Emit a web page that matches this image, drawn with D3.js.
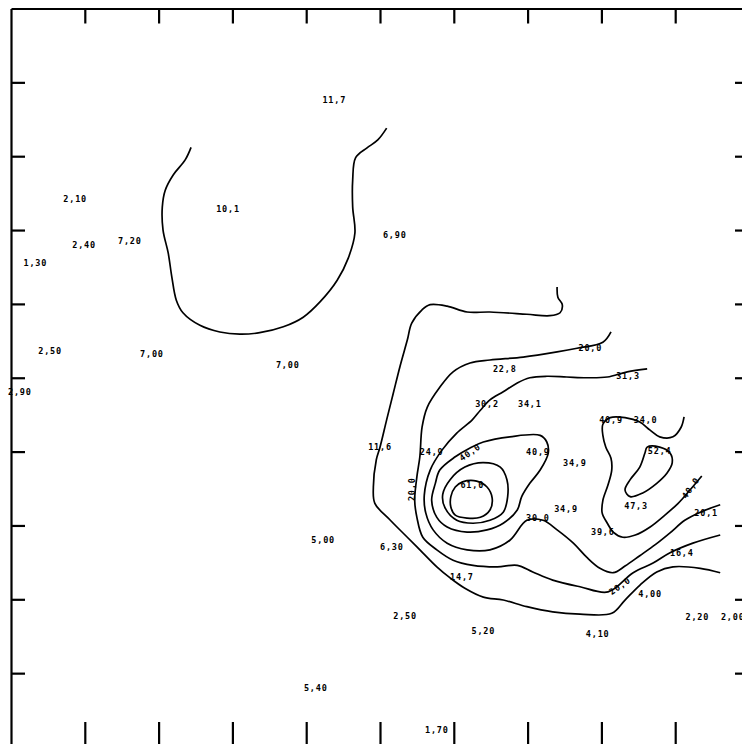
<!DOCTYPE html>
<html>
<head>
<meta charset="utf-8">
<script src="https://cdn.jsdelivr.net/npm/d3@7"></script>
<style>
  html, body { margin: 0; padding: 0; background: #fff; }
  svg { display: block; }
  .lbl { font-family: "DejaVu Sans Mono", monospace; font-weight: bold; font-size: 8.5px; letter-spacing: 0.8px; fill: #000; }
</style>
</head>
<body>
<div id="chart"></div>
<script>
// grid positions of the tick marks (map units)
var xTicks = [1, 2, 3, 4, 5, 6, 7, 8, 9];
var yTicks = [1, 2, 3, 4, 5, 6, 7, 8, 9];

// station values written on the map
var valueText = ["11,7", "2,10", "10,1", "7,20", "2,40", "1,30", "6,90", "2,50", "7,00", "7,00",
                 "2,90", "22,8", "31,3", "30,2", "34,1", "40,9", "34,0", "11,6", "24,9", "40,9",
                 "34,9", "52,4", "61,0", "47,3", "34,9", "39,6", "20,1", "6,30", "5,00", "16,4",
                 "14,7", "4,00", "2,50", "5,20", "4,10", "2,20", "2,00", "5,40", "1,70"];
var valueX = [4.38, 0.87, 2.94, 1.61, 0.99, 0.33, 5.20, 0.53, 1.91, 3.75,
              0.12, 6.69, 8.36, 6.45, 7.03, 8.13, 8.60, 5.00, 5.70, 7.14,
              7.64, 8.79, 6.25, 8.47, 7.52, 8.02, 9.42, 5.16, 4.23, 9.09,
              6.11, 8.66, 5.34, 6.40, 7.95, 9.30, 9.78, 4.13, 5.77];
var valueY = [8.76, 7.42, 7.29, 6.85, 6.80, 6.55, 6.93, 5.36, 5.32, 5.17,
              4.81, 5.12, 5.02, 4.64, 4.64, 4.43, 4.43, 4.06, 3.99, 3.99,
              3.85, 4.01, 3.55, 3.26, 3.22, 2.91, 3.17, 2.71, 2.80, 2.63,
              2.30, 2.07, 1.77, 1.57, 1.53, 1.76, 1.76, 0.80, 0.23];

// contour level labels
var levelText = ["20,0", "40,0", "20,0", "40,0", "30,0", "20,0"];
var levelX = [7.85, 6.22, 5.43, 9.21, 7.14, 8.25];
var levelY = [5.40, 3.99, 3.49, 3.51, 3.10, 2.18];

// contour lines, open
var lineU = [[2.44, 8.12], [2.36, 7.95], [2.20, 7.75], [2.09, 7.54], [2.05, 7.31], [2.06, 7.00],
             [2.13, 6.69], [2.18, 6.36], [2.24, 6.05], [2.33, 5.88], [2.56, 5.71], [2.83, 5.62],
             [3.10, 5.59], [3.37, 5.61], [3.69, 5.69], [3.96, 5.82], [4.19, 6.03], [4.42, 6.32],
             [4.57, 6.62], [4.66, 6.96], [4.63, 7.31], [4.63, 7.68], [4.67, 7.98], [4.82, 8.11],
             [4.97, 8.22], [5.09, 8.38]];
var lineOuter = [[7.40, 6.23], [7.41, 6.09], [7.47, 5.99], [7.44, 5.88], [7.30, 5.84], [6.99, 5.86],
                 [6.49, 5.89], [6.18, 5.89], [5.91, 5.97], [5.68, 5.99], [5.57, 5.92], [5.43, 5.74],
                 [5.37, 5.51], [5.27, 5.15], [5.18, 4.79], [5.09, 4.43], [5.00, 4.06], [4.95, 3.89],
                 [4.91, 3.52], [4.93, 3.30], [5.14, 3.07], [5.37, 2.84], [5.57, 2.64], [5.77, 2.44],
                 [5.95, 2.29], [6.15, 2.15], [6.40, 2.03], [6.67, 1.99], [6.99, 1.90], [7.34, 1.83],
                 [7.71, 1.80], [8.14, 1.81], [8.32, 1.99], [8.52, 2.19], [8.75, 2.37], [8.97, 2.44],
                 [9.34, 2.42], [9.61, 2.36]];
var line20 = [[8.13, 5.62], [8.02, 5.48], [7.67, 5.40], [7.40, 5.35], [6.94, 5.28], [6.49, 5.24],
              [6.22, 5.20], [5.99, 5.08], [5.81, 4.87], [5.64, 4.60], [5.57, 4.33], [5.54, 3.93],
              [5.50, 3.66], [5.47, 3.34], [5.50, 3.11], [5.58, 2.84], [5.77, 2.67], [5.99, 2.53],
              [6.26, 2.46], [6.59, 2.44], [6.86, 2.46], [7.07, 2.37], [7.34, 2.26], [7.71, 2.17],
              [8.09, 2.10], [8.43, 2.36], [8.70, 2.49], [8.93, 2.63], [9.24, 2.76], [9.61, 2.87]];
var line30 = [[8.62, 5.12], [8.35, 5.08], [8.08, 5.01], [7.80, 5.00], [7.53, 5.01], [7.26, 5.02],
              [7.03, 5.00], [6.86, 4.93], [6.67, 4.81], [6.49, 4.70], [6.36, 4.56], [6.25, 4.43],
              [6.04, 4.25], [5.84, 4.02], [5.68, 3.75], [5.60, 3.41], [5.62, 3.17], [5.72, 2.94],
              [5.91, 2.76], [6.18, 2.67], [6.49, 2.67], [6.76, 2.80], [6.99, 3.07], [7.21, 3.07],
              [7.40, 2.94], [7.62, 2.76], [7.80, 2.57], [7.98, 2.42], [8.16, 2.36], [8.32, 2.45],
              [8.52, 2.59], [8.73, 2.74], [8.93, 2.90], [9.13, 3.07], [9.34, 3.18], [9.61, 3.28]];
var line40East = [[9.12, 4.47], [9.08, 4.33], [8.97, 4.20], [8.79, 4.20], [8.66, 4.29], [8.52, 4.40],
                  [8.32, 4.46], [8.12, 4.46], [8.02, 4.37], [8.02, 4.22], [8.06, 4.06], [8.13, 3.91],
                  [8.14, 3.75], [8.09, 3.55], [8.02, 3.34], [8.01, 3.17], [8.08, 3.03], [8.16, 2.91],
                  [8.29, 2.84], [8.46, 2.87], [8.66, 2.98], [8.86, 3.14], [9.04, 3.30], [9.20, 3.48],
                  [9.36, 3.67]];

// contour lines, closed
var loop40 = [[6.40, 4.13], [6.76, 4.20], [7.17, 4.22], [7.26, 4.13], [7.28, 3.98], [7.17, 3.75],
              [7.03, 3.57], [6.92, 3.39], [6.86, 3.21], [6.67, 3.03], [6.45, 2.94], [6.18, 2.91],
              [5.91, 2.98], [5.77, 3.11], [5.70, 3.34], [5.75, 3.57], [5.81, 3.75], [6.02, 3.93],
              [6.22, 4.05]];
var loop50 = [[5.85, 3.42], [5.95, 3.62], [6.15, 3.79], [6.40, 3.85], [6.63, 3.79], [6.72, 3.62],
              [6.73, 3.39], [6.67, 3.18], [6.49, 3.07], [6.26, 3.03], [6.04, 3.07], [5.88, 3.24]];
var loop60 = [[5.96, 3.39], [6.02, 3.52], [6.12, 3.59], [6.31, 3.60], [6.45, 3.52], [6.52, 3.37],
              [6.49, 3.21], [6.36, 3.11], [6.18, 3.10], [6.02, 3.14], [5.96, 3.25]];
var loop50East = [[8.62, 4.06], [8.79, 4.06], [8.93, 3.98], [8.96, 3.85], [8.89, 3.71], [8.75, 3.57],
                  [8.56, 3.44], [8.39, 3.39], [8.32, 3.48], [8.39, 3.62], [8.52, 3.79], [8.59, 3.98]];

var openLines = [lineU, lineOuter, line20, line30, line40East];
var closedLines = [loop40, loop50, loop60, loop50East];

var w = 742,
    h = 744;

var x = d3.scaleLinear().domain([0, 10]).range([11, 749]);
var y = d3.scaleLinear().domain([0, 10]).range([747, 8.5]);

var svg = d3.select("#chart")
            .append("svg")
            .attr("width", w)
            .attr("height", h);

svg.append("rect")
   .attr("width", w)
   .attr("height", h)
   .style("fill", "#fff");

// frame with inward ticks
var frame = [
    { axis: d3.axisTop(x).tickValues(xTicks).tickSize(-15), at: "translate(0," + y(10) + ")" },
    { axis: d3.axisBottom(x).tickValues(xTicks).tickSize(-25), at: "translate(0," + y(0) + ")" },
    { axis: d3.axisLeft(y).tickValues(yTicks).tickSize(-14), at: "translate(" + x(0) + ",0)" },
    { axis: d3.axisRight(y).tickValues(yTicks).tickSize(-14), at: "translate(" + x(10) + ",0)" }
];

frame.forEach(function(f) {
    var g = svg.append("g")
               .attr("transform", f.at)
               .call(f.axis.tickSizeOuter(0).tickFormat(""));
    g.select(".domain").style("stroke", "#000").style("stroke-width", 2.2);
    g.selectAll(".tick line").style("stroke", "#000").style("stroke-width", 2.2);
});

var openPath = d3.line()
                 .x(function(d) { return x(d[0]); })
                 .y(function(d) { return y(d[1]); })
                 .curve(d3.curveCatmullRom.alpha(0.5));

var loopPath = d3.line()
                 .x(function(d) { return x(d[0]); })
                 .y(function(d) { return y(d[1]); })
                 .curve(d3.curveCatmullRomClosed.alpha(0.5));

svg.selectAll("path.open")
   .data(openLines)
   .enter()
   .append("path")
   .attr("class", "open")
   .attr("d", openPath)
   .style("fill", "none")
   .style("stroke", "#000")
   .style("stroke-width", 1.7);

svg.selectAll("path.loop")
   .data(closedLines)
   .enter()
   .append("path")
   .attr("class", "loop")
   .attr("d", loopPath)
   .style("fill", "none")
   .style("stroke", "#000")
   .style("stroke-width", 1.7);

svg.selectAll("text.value")
   .data(valueText)
   .enter()
   .append("text")
   .attr("class", "value lbl")
   .attr("x", function(d, i) { return x(valueX[i]); })
   .attr("y", function(d, i) { return y(valueY[i]); })
   .attr("text-anchor", "middle")
   .attr("dy", "0.35em")
   .text(function(d) { return d; });

// rotation of each level label, follows the line it sits on
var levelAngle = [0, -35, -90, -55, 0, -35];

svg.selectAll("text.level")
   .data(levelText)
   .enter()
   .append("text")
   .attr("class", "level lbl")
   .attr("text-anchor", "middle")
   .attr("dy", "0.35em")
   .attr("transform", function(d, i) {
       return "translate(" + x(levelX[i]) + "," + y(levelY[i]) + ") rotate(" + levelAngle[i] + ")";
   })
   .text(function(d) { return d; });
</script>
</body>
</html>
